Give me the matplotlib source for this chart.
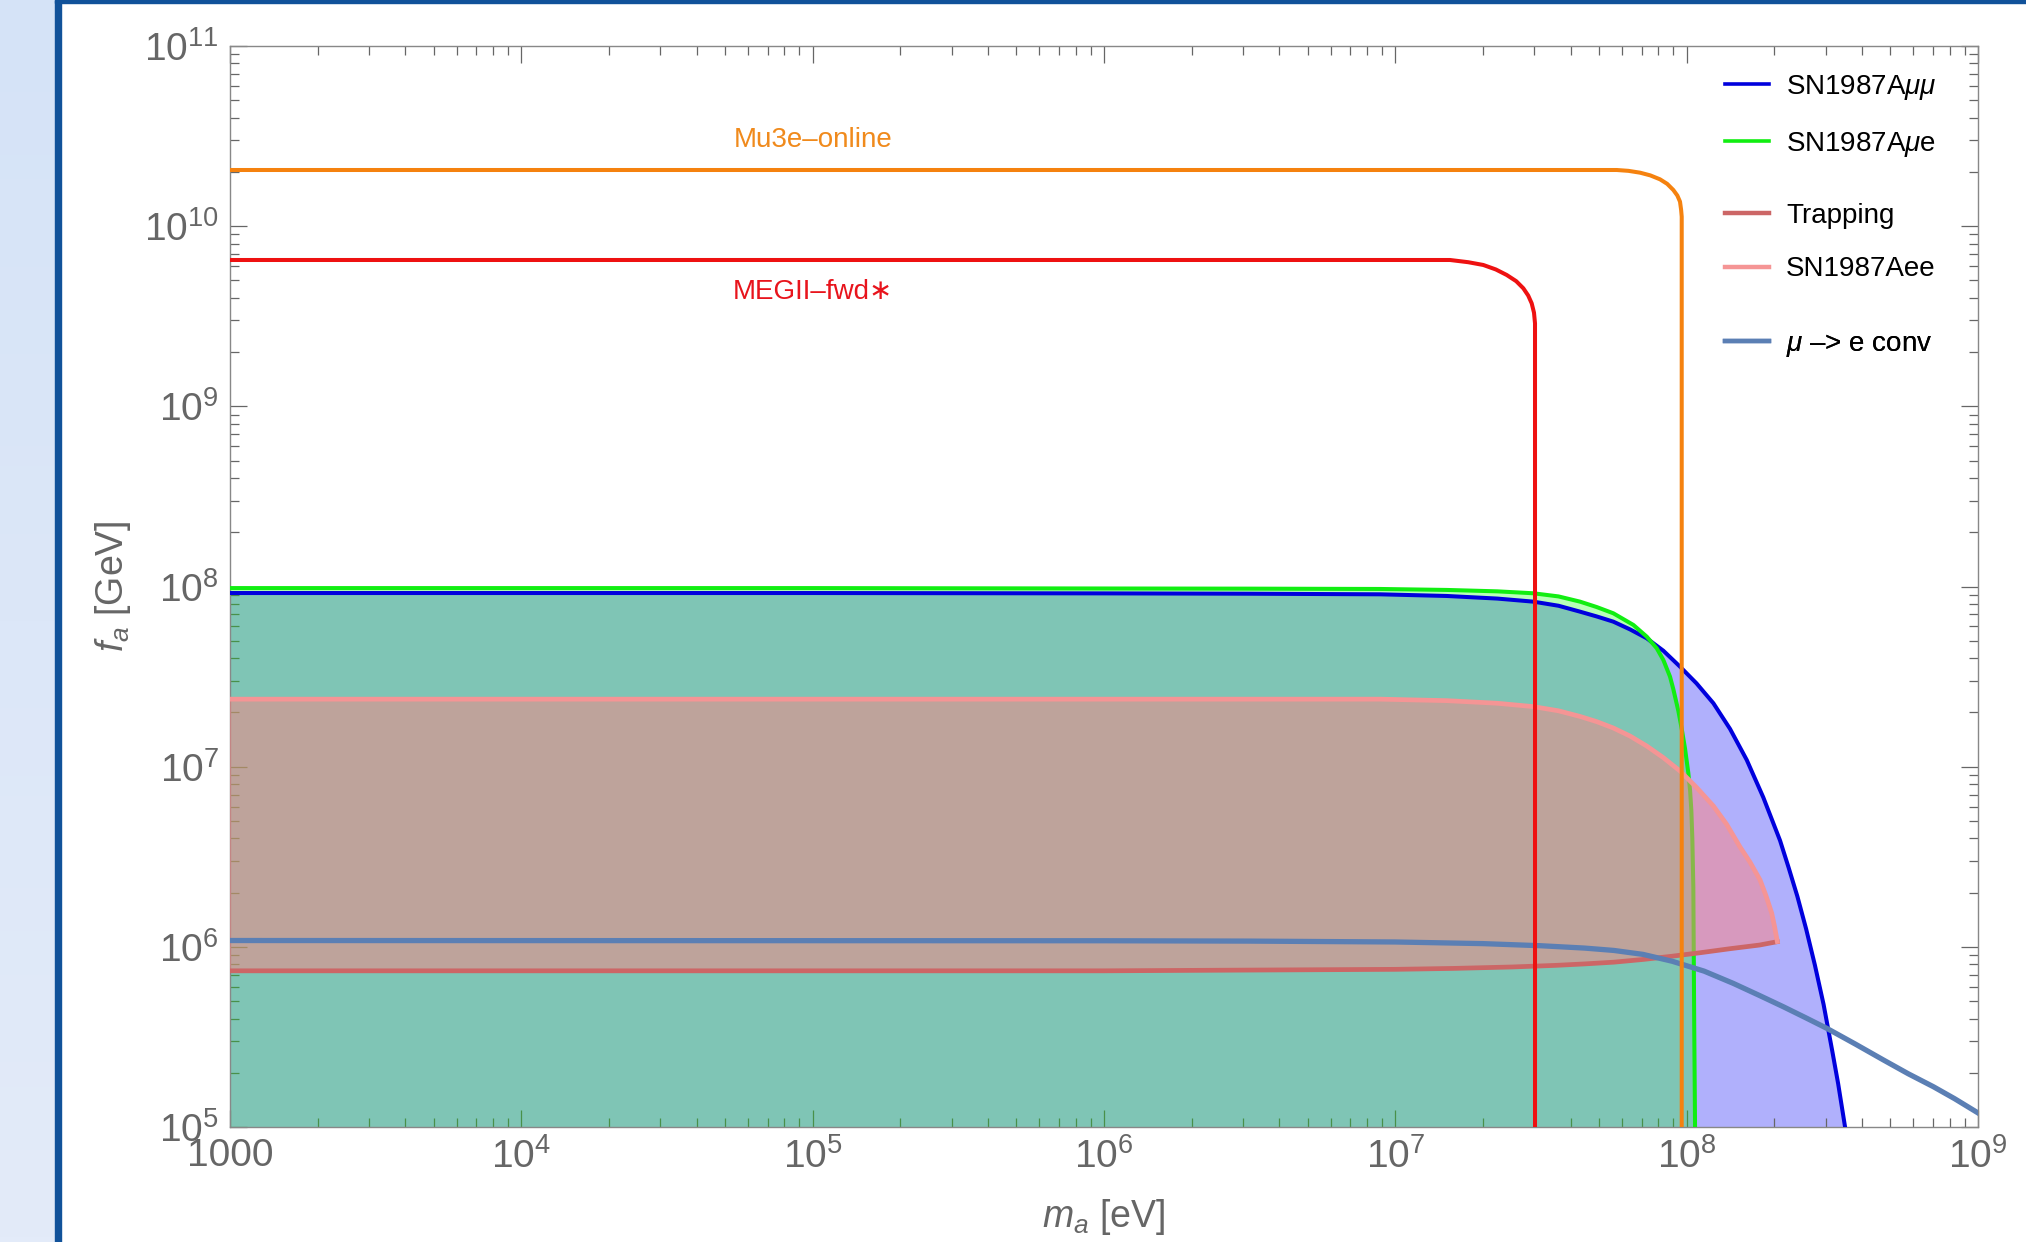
import numpy as np
import matplotlib
matplotlib.use("Agg")
import matplotlib.pyplot as plt
from matplotlib.patches import Rectangle
from matplotlib.lines import Line2D
from matplotlib.ticker import LogLocator, NullFormatter, FixedLocator

plt.rcParams["font.family"] = ["Liberation Sans", "DejaVu Sans"]
plt.rcParams["mathtext.fontset"] = "custom"
plt.rcParams["mathtext.rm"] = "Liberation Sans"
plt.rcParams["mathtext.it"] = "Liberation Sans:italic"
plt.rcParams["mathtext.bf"] = "Liberation Sans:bold"

# curves: m_a [eV], f_a [GeV]
m_mumu = [1e3, 1e5, 1e6, 3.16e6, 8.86e6, 1.501e7, 2.239e7, 2.977e7, 3.631e7, 4.305e7,
          4.912e7, 5.602e7, 6.392e7, 7.293e7, 8.318e7, 9.489e7, 1.081e8, 1.235e8,
          1.409e8, 1.608e8, 1.832e8, 2.092e8, 2.239e8, 2.399e8, 2.570e8, 2.754e8,
          2.951e8, 3.162e8, 3.311e8, 3.497e8]
f_mumu = [9.20e7, 9.20e7, 9.16e7, 9.12e7, 9.05e7, 8.86e7, 8.57e7, 8.24e7, 7.82e7, 7.25e7,
          6.82e7, 6.38e7, 5.78e7, 5.16e7, 4.40e7, 3.59e7, 2.90e7, 2.25e7,
          1.62e7, 1.089e7, 6.76e6, 3.89e6, 2.75e6, 1.905e6, 1.259e6, 7.94e5,
          4.79e5, 2.63e5, 1.74e5, 1.0e5]

m_mue = [1e3, 1e5, 1e6, 3.16e6, 8.86e6, 1.501e7, 2.239e7, 2.977e7, 3.631e7, 4.305e7,
         4.912e7, 5.602e7, 6.561e7, 7.293e7, 7.894e7, 8.316e7, 8.767e7, 9.00e7,
         9.363e7, 9.618e7, 9.872e7, 1.0132e8, 1.0271e8, 1.0375e8, 1.0459e8,
         1.0541e8, 1.0617e8, 1.0685e8]
f_mue = [9.8e7, 9.8e7, 9.75e7, 9.73e7, 9.69e7, 9.57e7, 9.40e7, 9.17e7, 8.81e7, 8.24e7,
         7.69e7, 7.10e7, 6.12e7, 5.27e7, 4.54e7, 3.91e7, 3.16e7, 2.69e7,
         2.04e7, 1.62e7, 1.26e7, 9.23e6, 7.41e6, 5.75e6, 3.98e6,
         2.14e6, 3.55e5, 1.0e5]

m_ee = [1e3, 1e6, 8.86e6, 1.501e7, 2.239e7, 2.977e7, 3.631e7, 4.305e7, 4.912e7, 5.602e7,
        6.392e7, 7.293e7, 8.318e7, 9.489e7, 1.081e8, 1.235e8, 1.371e8, 1.525e8,
        1.650e8, 1.786e8, 1.870e8, 1.958e8, 2.004e8, 2.047e8]
f_ee = [2.37e7, 2.37e7, 2.37e7, 2.325e7, 2.249e7, 2.154e7, 2.042e7, 1.900e7, 1.778e7, 1.639e7,
        1.479e7, 1.302e7, 1.122e7, 9.46e6, 7.67e6, 6.05e6, 4.79e6, 3.58e6,
        2.95e6, 2.35e6, 1.93e6, 1.54e6, 1.29e6, 1.07e6]

m_trap = [1e3, 1e6, 1e7, 1.585e7, 2.512e7, 3.548e7, 4.467e7, 5.623e7, 7.079e7, 8.913e7,
          1.122e8, 1.413e8, 1.778e8, 2.047e8]
f_trap = [7.36e5, 7.36e5, 7.50e5, 7.59e5, 7.73e5, 7.89e5, 8.04e5, 8.22e5, 8.51e5, 8.87e5,
          9.29e5, 9.77e5, 1.023e6, 1.068e6]

m_conv = [1e3, 1e6, 3.162e6, 1e7, 1.995e7, 3.162e7, 4.467e7, 5.623e7, 7.079e7, 8.913e7,
          1.148e8, 1.445e8, 1.778e8, 2.147e8, 2.570e8, 3.026e8, 3.802e8, 4.736e8,
          5.754e8, 7.031e8, 8.318e8, 1e9]
f_conv = [1.084e6, 1.081e6, 1.076e6, 1.064e6, 1.042e6, 1.014e6, 9.84e5, 9.55e5, 9.08e5, 8.32e5,
          7.33e5, 6.27e5, 5.37e5, 4.65e5, 4.03e5, 3.53e5, 2.88e5, 2.355e5,
          1.977e5, 1.673e5, 1.435e5, 1.197e5]

m_mu3e = [1e3, 5.754e7, 6.310e7, 6.918e7, 7.499e7, 8.099e7, 8.570e7, 8.999e7, 9.290e7,
          9.487e7, 9.572e7, 9.616e7, 9.616e7]
f_mu3e = [2.05e10, 2.05e10, 2.028e10, 1.981e10, 1.914e10, 1.820e10, 1.718e10, 1.588e10,
          1.479e10, 1.368e10, 1.230e10, 1.129e10, 1e5]

m_meg = [1e3, 1.541e7, 1.778e7, 2.004e7, 2.213e7, 2.411e7, 2.600e7, 2.750e7, 2.858e7,
         2.938e7, 2.992e7, 3.016e7, 3.016e7]
f_meg = [6.49e9, 6.49e9, 6.31e9, 6.09e9, 5.75e9, 5.36e9, 4.95e9, 4.52e9, 4.12e9,
         3.73e9, 3.31e9, 2.89e9, 1e5]

x_ticks = [1e3, 1e4, 1e5, 1e6, 1e7, 1e8, 1e9]
x_labels = ["1000", "$10^{4}$", "$10^{5}$", "$10^{6}$", "$10^{7}$", "$10^{8}$", "$10^{9}$"]
y_ticks = [1e5, 1e6, 1e7, 1e8, 1e9, 1e10, 1e11]
y_labels = ["$10^{%d}$" % k for k in range(5, 12)]

c_mumu = "#0000dd"
c_mue = "#11ee11"
c_trap = "#cc6666"
c_ee = "#f59595"
c_conv = "#5b7fb4"
c_mu3e = "#f5820f"
c_meg = "#ee1111"
grey = "#666666"

W, H = 2026, 1242
fig = plt.figure(figsize=(W / 100, H / 100), dpi=100)

# light side strip and dark border
strip = fig.add_axes([0, 0, 55 / W, 1])
grad = np.linspace(0, 1, 256).reshape(-1, 1)
top_c = np.array([0xd5, 0xe3, 0xf7]) / 255
bot_c = np.array([0xe3, 0xeb, 0xf9]) / 255
img = top_c[None, None, :] * (1 - grad[:, :, None]) + bot_c[None, None, :] * grad[:, :, None]
strip.imshow(img, aspect="auto", extent=[0, 1, 0, 1])
strip.axis("off")
fig.patches.append(Rectangle((55 / W, 0), 6 / W, 1, transform=fig.transFigure,
                             color="#11529a", zorder=5))
fig.patches.append(Rectangle((55 / W, 1 - 3 / H), 1, 3 / H, transform=fig.transFigure,
                             color="#11529a", zorder=5))

ax = fig.add_axes([230 / W, 1 - 1127 / H, (1978 - 230) / W, (1127 - 46) / H])
ax.set_xscale("log")
ax.set_yscale("log")
ax.set_xlim(1e3, 1e9)
ax.set_ylim(1e5, 1e11)

# fills
ax.fill_between(m_mumu, f_mumu, 1e5, color="#0000f8", alpha=0.31, lw=0, zorder=1)
ax.fill_between(m_mue, f_mue, 1e5, color="#00ff00", alpha=0.28, lw=0, zorder=2)
ax.plot(m_mumu, f_mumu, color=c_mumu, lw=2.9, zorder=3)
ax.plot(m_mue, f_mue, color=c_mue, lw=2.9, zorder=3)
ax.fill(m_ee + m_trap[::-1], f_ee + f_trap[::-1], color="#fe8382", alpha=0.5, lw=0, zorder=4)

ax.plot(m_trap, f_trap, color=c_trap, lw=3.4, zorder=5)
ax.plot(m_ee, f_ee, color=c_ee, lw=3.4, zorder=5)
ax.plot(m_conv, f_conv, color=c_conv, lw=3.8, zorder=6)
ax.plot(m_meg, f_meg, color=c_meg, lw=2.9, zorder=7)
ax.plot(m_mu3e, f_mu3e, color=c_mu3e, lw=2.9, zorder=7)

ax.text(1e5, 3.0e10, "Mu3e–online", color="#f08a1c", fontsize=20, ha="center", va="center")
ax.text(1e5, 4.3e9, "MEGII–fwd∗", color="#e8141c", fontsize=20, ha="center", va="center")

# axes styling
for s in ax.spines.values():
    s.set_color("#888888")
    s.set_linewidth(1.0)
ax.xaxis.set_major_locator(FixedLocator(x_ticks))
ax.set_xticklabels(x_labels)
ax.yaxis.set_major_locator(FixedLocator(y_ticks))
ax.set_yticklabels(y_labels)
ax.xaxis.set_minor_locator(LogLocator(base=10, subs=np.arange(2, 10), numticks=20))
ax.yaxis.set_minor_locator(LogLocator(base=10, subs=np.arange(2, 10), numticks=20))
ax.xaxis.set_minor_formatter(NullFormatter())
ax.yaxis.set_minor_formatter(NullFormatter())
ax.tick_params(which="both", direction="in", top=True, right=True, color=grey, width=0.9)
ax.tick_params(which="major", length=12, labelsize=28, labelcolor=grey)
ax.tick_params(which="minor", length=6.5)
ax.tick_params(axis="x", which="major", pad=8)
ax.tick_params(axis="y", which="major", pad=8)

ax.text(-0.067, 0.5, "$f_a$ [GeV]", transform=ax.transAxes, rotation=90,
        ha="center", va="center", fontsize=27, color=grey)
ax.text(0.5, -0.0833, "$m_a$ [eV]", transform=ax.transAxes,
        ha="center", va="center", fontsize=27, color=grey)

# legend in three groups
def group(items, ypos):
    handles = [Line2D([], [], color=c, lw=w) for _, c, w in items]
    leg = ax.legend(handles, [t for t, _, _ in items], loc="center left",
                    bbox_to_anchor=((1725 - 230) / 1748, ypos), frameon=False,
                    fontsize=20, handlelength=1.6, handletextpad=0.6,
                    labelspacing=1.0, borderpad=0, borderaxespad=0)
    ax.add_artist(leg)

group([("SN1987A$\\mu\\mu$", c_mumu, 2.6), ("SN1987A$\\mu$e", c_mue, 2.6)], 0.9352)
group([("Trapping", c_trap, 3.2), ("SN1987Aee", c_ee, 3.2)], 0.8182)
group([("$\\mu$ –> e conv", c_conv, 3.2)], 0.7234)

fig.savefig("out.png", dpi=100)
